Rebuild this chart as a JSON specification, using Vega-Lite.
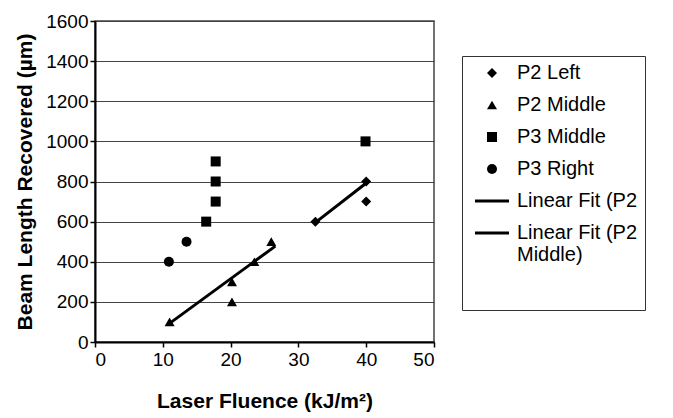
{
  "$schema": "https://vega.github.io/schema/vega-lite/v6.json",
  "width": 339,
  "height": 321,
  "autosize": {"type": "none"},
  "padding": {"left": 95, "top": 21, "right": 239, "bottom": 76},
  "background": "white",
  "config": {
    "font": "Liberation Sans",
    "view": {"stroke": "#444", "strokeWidth": 1.5},
    "axis": {
      "labelFont": "Liberation Sans",
      "titleFont": "Liberation Sans",
      "labelColor": "black",
      "titleColor": "black",
      "domainColor": "black",
      "tickColor": "black",
      "labelFontSize": 19,
      "titleFontSize": 21,
      "titleFontWeight": "bold",
      "tickSize": 5,
      "domainWidth": 2,
      "tickWidth": 1.5
    }
  },
  "data": {
    "values": [
      {"series": "P2 Left", "x": 32.5, "y": 600},
      {"series": "P2 Left", "x": 40, "y": 800},
      {"series": "P2 Left", "x": 40, "y": 700},
      {"series": "P2 Middle", "x": 11, "y": 100},
      {"series": "P2 Middle", "x": 20.2, "y": 200},
      {"series": "P2 Middle", "x": 20.2, "y": 300},
      {"series": "P2 Middle", "x": 23.5, "y": 400},
      {"series": "P2 Middle", "x": 26, "y": 500},
      {"series": "P3 Middle", "x": 16.4, "y": 600},
      {"series": "P3 Middle", "x": 17.8, "y": 900},
      {"series": "P3 Middle", "x": 17.8, "y": 800},
      {"series": "P3 Middle", "x": 17.8, "y": 700},
      {"series": "P3 Middle", "x": 39.9, "y": 1000},
      {"series": "P3 Right", "x": 10.9, "y": 400},
      {"series": "P3 Right", "x": 13.5, "y": 500},
      {"series": "Linear Fit (P2 Left)", "x": 32.3, "y": 590},
      {"series": "Linear Fit (P2 Left)", "x": 40.3, "y": 800},
      {"series": "Linear Fit (P2 Middle)", "x": 10.8, "y": 88},
      {"series": "Linear Fit (P2 Middle)", "x": 26.6, "y": 478}
    ]
  },
  "layer": [
    {
      "transform": [{"filter": "indexof(datum.series, 'Linear Fit') === 0"}],
      "mark": {"type": "line", "color": "black", "strokeWidth": 3},
      "encoding": {
        "x": {"field": "x", "type": "quantitative"},
        "y": {"field": "y", "type": "quantitative"},
        "detail": {"field": "series"}
      }
    },
    {
      "transform": [{"filter": "indexof(datum.series, 'Linear Fit') !== 0"}],
      "mark": {"type": "point", "filled": true, "color": "black", "size": 100, "opacity": 1},
      "encoding": {
        "x": {
          "field": "x", "type": "quantitative",
          "scale": {"domain": [0, 50], "nice": false},
          "axis": {"values": [0, 10, 20, 30, 40, 50], "grid": false, "title": "Laser Fluence (kJ/m²)", "titlePadding": 21, "labelPadding": 3, "format": "d"}
        },
        "y": {
          "field": "y", "type": "quantitative",
          "scale": {"domain": [0, 1600], "nice": false},
          "axis": {"values": [0, 200, 400, 600, 800, 1000, 1200, 1400, 1600], "format": "d", "grid": true, "gridColor": "#444", "gridWidth": 1, "gridOpacity": 1, "title": "Beam Length Recovered (µm)", "titlePadding": 10, "labelPadding": 2}
        },
        "shape": {
          "field": "series", "type": "nominal",
          "scale": {
            "domain": ["P2 Left", "P2 Middle", "P3 Middle", "P3 Right", "Linear Fit (P2 Left)", "Linear Fit (P2 Middle)"],
            "range": ["diamond", "triangle-up", "square", "circle", "M-3.4,-0.3H3.4V0.3H-3.4Z", "M-3.4,-0.3H3.4V0.3H-3.4Z"]
          },
          "legend": {
            "orient": "none",
            "legendX": 367,
            "legendY": 35,
            "title": " ",
            "titleOrient": "bottom",
            "titleFontSize": 18,
            "titlePadding": 20,
            "padding": 7,
            "strokeColor": "#333",
            "fillColor": "white",
            "symbolSize": 100,
            "symbolFillColor": "black",
            "symbolStrokeWidth": 0,
            "symbolOffset": 13,
            "labelOffset": 15,
            "labelFont": "Liberation Sans",
            "labelFontSize": 20,
            "labelColor": "black",
            "labelLimit": 300,
            "rowPadding": 12,
            "labelExpr": "datum.label === 'Linear Fit (P2 Left)' ? 'Linear Fit (P2' : datum.label === 'Linear Fit (P2 Middle)' ? ['Linear Fit (P2', 'Middle)'] : datum.label",
            "encode": {"labels": {"update": {"lineHeight": {"value": 24}}}}
          }
        }
      }
    }
  ]
}
